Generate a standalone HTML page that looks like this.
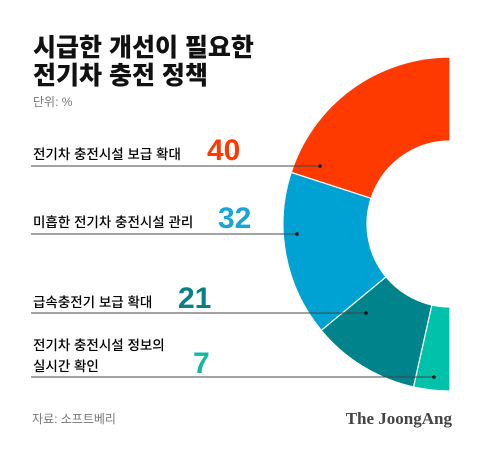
<!DOCTYPE html>
<html><head><meta charset="utf-8"><style>
body{margin:0;background:#fff;}
svg text{font-family:"Liberation Sans","Noto Sans CJK KR",sans-serif;}
</style></head><body>
<svg width="480" height="451" viewBox="0 0 480 451">
<text x="33" y="56" font-size="25" font-weight="900" fill="#111">시급한 개선이 필요한</text>
<text x="33" y="84" font-size="25" font-weight="900" fill="#111">전기차 충전 정책</text>
<text x="33" y="106" font-size="12" fill="#777">단위: %</text>
<g id="donut"></g>
<g id="labels"></g>
<text x="32" y="423" font-size="12" fill="#777">자료: 소프트베리</text>
<text x="452" y="424" text-anchor="end" font-size="17" font-weight="bold" fill="#444" style="font-family:'Liberation Serif',serif">The JoongAng</text>
</svg>
<script>
const categories = ["전기차 충전시설 보급 확대","미흡한 전기차 충전시설 관리","급속충전기 보급 확대","전기차 충전시설 정보의|실시간 확인"];
const values = [40,32,21,7];
const colors = ["#ff3a00","#00a2d4","#00838a","#00c2aa"];
const valueColors = ["#ff3a00","#1aa3d6","#0a7f86","#14b8a2"];
const NS="http://www.w3.org/2000/svg";
const cx=450, cy=224, R=167, r=83;
const total=values.reduce((a,b)=>a+b,0);
const donut=document.getElementById('donut');
function pt(rad,a){return [cx-Math.sin(a)*rad, cy-Math.cos(a)*rad];}
let acc=0;
values.forEach((v,i)=>{
  const a0=acc/total*Math.PI, a1=(acc+v)/total*Math.PI; acc+=v;
  const p1=pt(R,a0),p2=pt(R,a1),p3=pt(r,a1),p4=pt(r,a0);
  const path=document.createElementNS(NS,'path');
  path.setAttribute('d',`M${p1} A${R},${R} 0 0 0 ${p2} L${p3} A${r},${r} 0 0 1 ${p4} Z`);
  path.setAttribute('fill',colors[i]);
  path.setAttribute('stroke','#fff');
  path.setAttribute('stroke-width','1.2');
  
  
  donut.appendChild(path);
});
const lineY=[166,234,313,377], dotX=[320,297,366,434], valX=[207,218,178,193], valY=[160,228,308,373];
const labY=[[159],[227],[307],[350,371]];
const labels=document.getElementById('labels');
categories.forEach((c,i)=>{
  const ln=document.createElementNS(NS,'line');
  ln.setAttribute('x1',31);ln.setAttribute('x2',dotX[i]);ln.setAttribute('y1',lineY[i]);ln.setAttribute('y2',lineY[i]);
  ln.setAttribute('stroke','#444');ln.setAttribute('stroke-width','0.9');
  
  
  labels.appendChild(ln);
  const d=document.createElementNS(NS,'circle');
  d.setAttribute('cx',dotX[i]);d.setAttribute('cy',lineY[i]);d.setAttribute('r',1.8);d.setAttribute('fill','#111');
  
  
  labels.appendChild(d);
  c.split('|').forEach((s,j)=>{
    const t=document.createElementNS(NS,'text');
    t.setAttribute('x',33);t.setAttribute('y',labY[i][j]);t.setAttribute('font-size','13.5');t.setAttribute('font-weight','500');t.setAttribute('fill','#000');
    t.textContent=s;
    
    
    labels.appendChild(t);
  });
  const vt=document.createElementNS(NS,'text');
  vt.setAttribute('x',valX[i]);vt.setAttribute('y',valY[i]);vt.setAttribute('font-size','30');vt.setAttribute('font-weight','bold');vt.setAttribute('fill',valueColors[i]);
  vt.textContent=values[i];
  
  
  labels.appendChild(vt);
});
</script>
</body></html>
